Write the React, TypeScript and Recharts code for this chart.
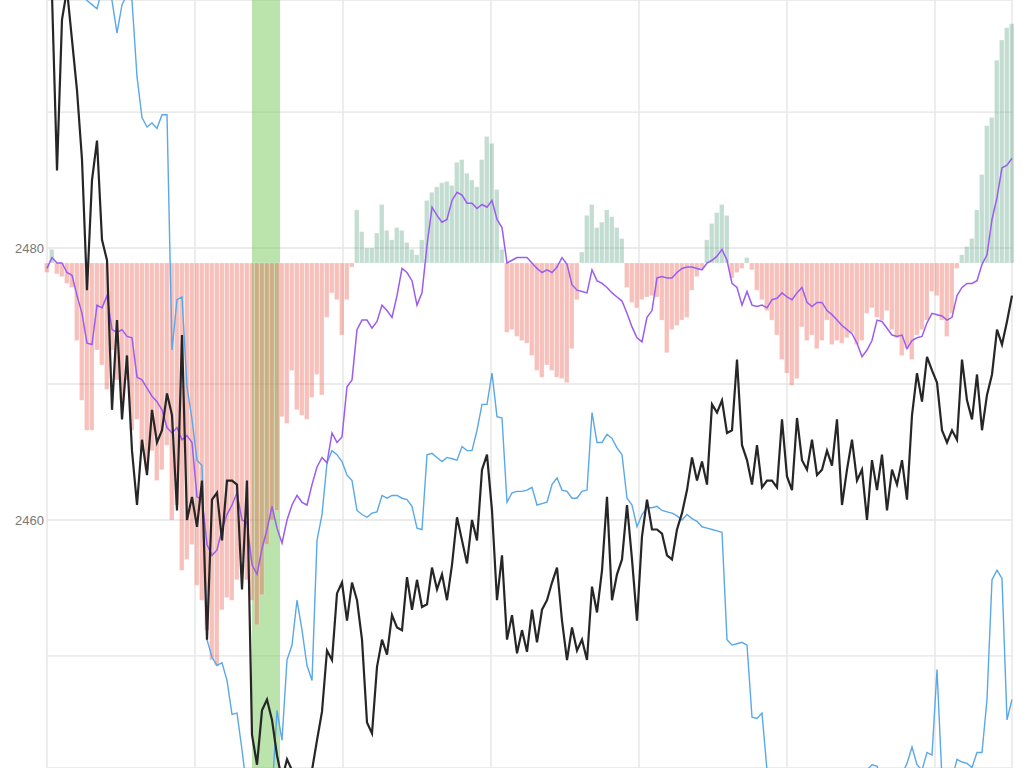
import { ComposedChart, Bar, Line, XAxis, YAxis, CartesianGrid, ReferenceArea, Cell } from "recharts";

// price series sampled at equal steps (index = sample number)
const BLACK = [
  2499.0, 2498.6, 2485.7, 2496.8, 2499.0, 2495.3, 2491.6, 2486.5, 2476.9, 2485.0,
  2487.9, 2480.6, 2479.1, 2468.1, 2474.7, 2467.4, 2472.1, 2465.1, 2461.1, 2465.9,
  2463.3, 2468.1, 2465.7, 2466.6, 2469.3, 2467.7, 2460.7, 2473.6, 2460.0, 2461.7,
  2459.5, 2462.9, 2451.2, 2461.5, 2462.0, 2458.5, 2462.9, 2462.9, 2462.6, 2454.9,
  2462.9, 2444.2, 2442.0, 2446.0, 2446.8, 2445.3, 2442.7, 2440.9, 2442.4, 2441.6,
  2440.1, 2440.1, 2440.9, 2441.6, 2443.8, 2445.9, 2450.4, 2449.7, 2454.6, 2455.4,
  2452.6, 2455.4, 2454.1, 2451.2, 2445.1, 2444.3, 2449.2, 2451.2, 2450.1, 2453.0,
  2452.1, 2451.9, 2455.8, 2453.4, 2455.6, 2453.6, 2453.8, 2456.5, 2454.9, 2456.0,
  2454.1, 2456.7, 2460.2, 2458.5, 2456.8, 2460.0, 2458.5, 2463.7, 2464.8, 2460.7,
  2454.1, 2457.4, 2451.2, 2453.0, 2450.2, 2451.9, 2450.3, 2453.4, 2451.0, 2453.4,
  2454.1, 2455.4, 2456.5, 2452.6, 2449.7, 2452.1, 2450.4, 2451.2, 2449.7, 2455.1,
  2453.2, 2456.3, 2461.7, 2454.1, 2456.0, 2457.1, 2461.1, 2457.1, 2452.6, 2458.8,
  2461.5, 2459.3, 2459.3, 2459.0, 2457.4, 2457.1, 2459.3, 2460.5, 2462.2, 2464.6,
  2462.9, 2464.3, 2462.6, 2468.5, 2467.9, 2468.8, 2466.4, 2466.6, 2471.8, 2465.5,
  2464.4, 2462.6, 2465.5, 2462.4, 2462.9, 2462.9, 2462.4, 2467.4, 2463.2, 2462.2,
  2467.5, 2464.4, 2463.7, 2465.9, 2463.3, 2463.7, 2465.1, 2464.0, 2467.4, 2461.1,
  2463.7, 2465.9, 2462.9, 2463.7, 2460.0, 2464.4, 2462.2, 2464.8, 2460.7, 2463.7,
  2462.6, 2464.4, 2461.5, 2467.7, 2470.8, 2468.7, 2472.0, 2471.0, 2470.1, 2466.6,
  2465.7, 2466.6, 2465.9, 2471.8, 2468.8, 2467.4, 2470.7, 2466.6, 2469.2, 2470.7,
  2474.0, 2472.9, 2474.6, 2476.5,
];

const PURPLE = [
  2478.5, 2479.3, 2478.9, 2478.9, 2478.2, 2478.0, 2476.5, 2475.2, 2473.0, 2472.9,
  2475.8, 2475.6, 2476.5, 2474.0, 2473.8, 2474.0, 2473.5, 2473.4, 2470.5, 2470.3,
  2469.7, 2469.1, 2468.7, 2468.1, 2466.8, 2466.4, 2466.8, 2465.9, 2466.2, 2465.7,
  2461.7, 2461.5, 2458.2, 2457.4, 2457.8, 2459.3, 2460.4, 2461.1, 2462.0, 2460.0,
  2459.8, 2456.7, 2456.0, 2457.9, 2459.3, 2461.0, 2459.4, 2458.3, 2460.0, 2461.1,
  2461.8, 2461.3, 2461.1, 2462.6, 2463.9, 2464.6, 2464.2, 2466.4, 2465.7, 2466.1,
  2469.8, 2470.3, 2474.0, 2474.7, 2474.7, 2474.1, 2474.6, 2475.8, 2475.4, 2474.9,
  2476.5, 2478.5, 2478.2, 2477.6, 2475.8, 2476.7, 2480.2, 2483.0, 2482.4, 2481.9,
  2482.1, 2483.5, 2484.1, 2483.9, 2483.3, 2483.3, 2482.9, 2483.2, 2483.0, 2483.5,
  2482.1, 2481.5, 2478.9, 2479.1, 2479.3, 2479.3, 2479.3, 2478.9, 2478.5, 2478.2,
  2478.4, 2478.2, 2478.6, 2479.3, 2478.8, 2477.3, 2476.9, 2476.8, 2476.7, 2478.4,
  2477.6, 2477.4, 2477.1, 2476.7, 2476.4, 2476.1, 2475.2, 2474.2, 2473.4, 2473.1,
  2474.9, 2475.4, 2477.8, 2477.9, 2477.8, 2477.8, 2478.2, 2478.5, 2478.6, 2478.6,
  2478.5, 2478.4, 2478.9, 2479.1, 2479.4, 2479.9, 2479.1, 2477.4, 2477.1, 2475.8,
  2476.8, 2475.8, 2475.7, 2475.8, 2475.6, 2476.2, 2476.3, 2476.7, 2476.4, 2476.2,
  2476.7, 2477.1, 2476.0, 2475.7, 2476.0, 2476.0, 2475.4, 2475.1, 2474.7, 2474.3,
  2474.0, 2473.7, 2473.0, 2472.0, 2472.5, 2473.2, 2474.7, 2474.6, 2474.1, 2473.6,
  2473.5, 2473.6, 2472.6, 2473.2, 2473.4, 2473.5, 2474.5, 2475.2, 2475.1, 2475.0,
  2474.7, 2474.9, 2476.5, 2477.1, 2477.4, 2477.4, 2477.6, 2478.8, 2479.5, 2482.1,
  2483.7, 2485.9, 2486.1, 2486.6,
];

const BLUE = [
  2501.2, 2501.2, 2501.2, 2501.2, 2501.2, 2500.4, 2499.7, 2498.6, 2498.2, 2497.9,
  2497.6, 2499.0, 2499.0, 2498.2, 2495.8, 2497.9, 2498.6, 2498.2, 2492.6, 2489.6,
  2488.9, 2489.2, 2488.8, 2489.8, 2489.8, 2472.5, 2476.2, 2476.4, 2469.8, 2467.4,
  2464.4, 2464.0, 2451.2, 2449.9, 2449.3, 2449.5, 2448.2, 2445.7, 2445.8, 2443.1,
  2440.1, 2439.4, 2439.4, 2439.4, 2439.4, 2439.8, 2446.0, 2443.8, 2449.7, 2450.8,
  2454.1, 2451.9, 2449.3, 2448.2, 2458.5, 2460.4, 2464.2, 2465.1, 2464.8, 2464.3,
  2463.3, 2462.9, 2460.7, 2460.4, 2460.2, 2460.5, 2460.6, 2461.8, 2461.6, 2461.8,
  2461.8, 2461.6, 2461.5, 2461.0, 2459.4, 2459.3, 2464.8, 2464.9, 2464.6, 2464.3,
  2464.6, 2464.5, 2464.4, 2465.4, 2465.1, 2465.1, 2466.6, 2468.5, 2468.5, 2470.8,
  2467.6, 2467.5, 2461.3, 2462.0, 2462.1, 2462.1, 2462.2, 2462.4, 2461.1, 2461.2,
  2461.3, 2462.6, 2463.1, 2462.2, 2462.1, 2461.6, 2461.6, 2462.1, 2462.2, 2467.9,
  2465.7, 2465.7, 2466.3, 2466.0, 2465.3, 2464.8, 2461.6, 2461.1, 2459.5, 2460.4,
  2460.9, 2460.9, 2461.0, 2460.7, 2460.6, 2460.5, 2460.3, 2460.0, 2460.4, 2460.1,
  2459.9, 2459.5, 2459.4, 2459.3, 2459.2, 2459.1, 2451.2, 2450.8, 2450.9, 2451.0,
  2450.8, 2445.5, 2445.4, 2445.8, 2441.6, 2440.1, 2439.4, 2439.4, 2439.4, 2439.4,
  2439.4, 2439.4, 2439.4, 2439.4, 2439.4, 2439.4, 2439.4, 2439.4, 2439.4, 2439.4,
  2439.4, 2439.4, 2439.4, 2440.1, 2441.6, 2442.0, 2441.9, 2440.9, 2440.1, 2440.1,
  2440.5, 2441.3, 2442.1, 2443.3, 2442.0, 2441.6, 2442.9, 2442.7, 2449.0, 2440.9,
  2440.1, 2440.9, 2442.4, 2442.2, 2442.1, 2441.8, 2442.9, 2442.9, 2446.8, 2455.6,
  2456.3, 2455.7, 2445.3, 2446.8,
];

// bars run from BAR_BASE to these values: green above, red below
const BARS = [
  2478.2, 2479.9, 2478.1, 2477.9, 2477.4, 2477.1, 2473.2, 2468.8, 2466.6, 2466.6,
  2472.5, 2471.4, 2469.6, 2472.5, 2470.3, 2468.8, 2470.3, 2466.6, 2467.4, 2465.1,
  2463.7, 2465.1, 2462.9, 2463.7, 2465.5, 2460.0, 2461.1, 2456.3, 2457.1, 2458.2,
  2455.2, 2454.1, 2451.9, 2449.7, 2449.3, 2453.4, 2454.3, 2454.1, 2455.6, 2457.1,
  2455.6, 2454.1, 2452.3, 2454.5, 2458.2, 2460.0, 2460.7, 2467.6, 2467.1, 2471.0,
  2468.1, 2467.7, 2467.4, 2469.0, 2470.7, 2469.2, 2474.9, 2476.7, 2476.2, 2473.6,
  2476.2, 2478.6, 2482.8, 2481.2, 2480.0, 2480.0, 2481.1, 2483.2, 2481.3, 2480.6,
  2481.5, 2481.3, 2480.4, 2479.9, 2479.5, 2480.6, 2483.5, 2484.1, 2484.5, 2484.8,
  2484.9, 2484.6, 2486.3, 2486.5, 2485.5, 2485.0, 2484.5, 2486.5, 2488.2, 2487.7,
  2484.3, 2479.9, 2473.8, 2474.0, 2473.5, 2473.2, 2473.0, 2472.1, 2471.0, 2470.5,
  2471.4, 2471.0, 2470.5, 2470.4, 2470.1, 2472.6, 2476.2, 2479.7, 2482.4, 2483.2,
  2481.5, 2481.9, 2482.8, 2482.3, 2481.5, 2480.7, 2477.1, 2476.0, 2475.6, 2476.2,
  2476.4, 2476.5, 2476.4, 2474.7, 2472.3, 2474.0, 2474.3, 2474.7, 2474.9, 2476.9,
  2477.9, 2478.5, 2480.6, 2481.8, 2482.6, 2483.2, 2482.4, 2477.8, 2478.2, 2478.5,
  2479.3, 2478.4, 2476.9, 2476.2, 2475.4, 2474.7, 2473.6, 2471.8, 2470.8, 2469.9,
  2470.4, 2474.2, 2473.2, 2473.6, 2472.6, 2473.2, 2474.7, 2472.9, 2473.2, 2473.0,
  2473.4, 2473.8, 2472.9, 2473.2, 2475.2, 2475.6, 2474.9, 2474.7, 2475.4, 2474.0,
  2473.4, 2472.1, 2472.6, 2471.8, 2473.6, 2474.0, 2474.7, 2476.8, 2476.5, 2474.7,
  2473.5, 2475.2, 2478.5, 2479.5, 2480.1, 2480.7, 2482.8, 2485.4, 2489.0, 2489.6,
  2493.8, 2495.3, 2496.2, 2496.5,
];

const BAR_BASE = 2478.9;
const Y_DOMAIN = [2441.76, 2498.24];
const Y_TICKS = [2450, 2460, 2470, 2480, 2490];
const Y_LABELS = [2460, 2480];
const X_GRID = [0, 29.6, 59.2, 88.8, 118.4, 148, 177.6, 193];
const BAND = [41, 46.6];

const data = BLACK.map((black, i) => ({
  i,
  black,
  purple: PURPLE[i],
  blue: BLUE[i],
  bar: BARS[i],
}));

const barRange = (d: { bar: number }) =>
  d.bar >= BAR_BASE ? [BAR_BASE, d.bar] : [d.bar, BAR_BASE];

const App = () => (
  <div style={{ position: "absolute", left: 0, top: 0 }}>
    <ComposedChart width={1024} height={768} data={data} margin={{ top: 0, right: 12, bottom: 0, left: 0 }}>
      <CartesianGrid stroke="#e4e4e4" strokeWidth={1.3} />
      <XAxis dataKey="i" type="number" domain={[0, 193]} ticks={X_GRID} hide />
      <YAxis
        domain={Y_DOMAIN}
        ticks={Y_TICKS}
        allowDataOverflow
        width={47}
        axisLine={false}
        tickLine={false}
        tickSize={0}
        tickMargin={3}
        tick={{ fontSize: 13, fill: "#777", fontFamily: "Liberation Sans, Arial, sans-serif" }}
        tickFormatter={(v: number) => (Y_LABELS.includes(v) ? String(v) : "")}
      />
      <ReferenceArea x1={BAND[0]} x2={BAND[1]} fill="rgb(120,200,90)" fillOpacity={0.5} stroke="none" />
      <Bar dataKey={barRange} barSize={5} isAnimationActive={false}>
        {data.map((d) => (
          <Cell
            key={d.i}
            fill={d.bar >= BAR_BASE ? "rgb(90,160,130)" : "rgb(235,90,75)"}
            fillOpacity={d.bar >= BAR_BASE ? 0.36 : 0.38}
            stroke="#fff"
            strokeOpacity={0.35}
            strokeWidth={0.6}
          />
        ))}
      </Bar>
      <Line dataKey="blue" stroke="#5aa8e8" strokeWidth={1.4} dot={false} isAnimationActive={false} />
      <Line dataKey="purple" stroke="#9b5cf0" strokeWidth={1.5} dot={false} isAnimationActive={false} />
      <Line dataKey="black" stroke="#262626" strokeWidth={2.2} dot={false} isAnimationActive={false} />
    </ComposedChart>
  </div>
);

export default App;
